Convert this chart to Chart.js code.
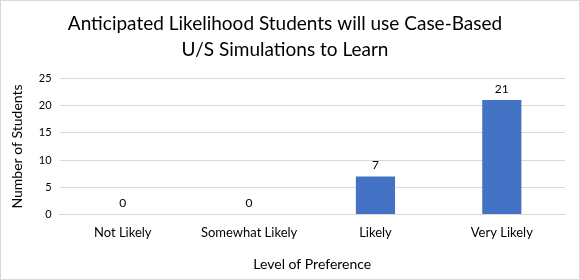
<!DOCTYPE html>
<html>
<head>
<meta charset="utf-8">
<script src="https://cdn.jsdelivr.net/npm/chart.js@4"></script>
<style>
  html, body { margin: 0; padding: 0; background: #fff; }
  #wrap {
    width: 578px;
    height: 278px;
    border: 1px solid #d9d9d9;
    position: relative;
  }
</style>
</head>
<body>
<div id="wrap"><canvas id="grafico"></canvas></div>
<script>
// datos
const categorias = ["Not Likely", "Somewhat Likely", "Likely", "Very Likely"];
const estudiantes = [0, 0, 7, 21];
const ticks_y = [0, 5, 10, 15, 20, 25];

const fuente = "Lato, 'Open Sans', sans-serif";

// etiquetas encima de cada barra
const plugin_etiquetas = {
  id: "etiquetasBarras",
  afterDatasetsDraw: (chart) => {
    const ctx = chart.ctx;
    const meta = chart.getDatasetMeta(0);
    ctx.save();
    ctx.font = "12px " + fuente;
    ctx.fillStyle = "#000";
    ctx.textAlign = "center";
    ctx.textBaseline = "bottom";
    meta.data.forEach((bar, i) => {
      ctx.fillText(String(estudiantes[i]), bar.x, bar.y - 5);
    });
    ctx.restore();
  },
};

const ctx = document.getElementById("grafico").getContext("2d");
const chart_preferencia = new Chart(ctx, {
  type: "bar",
  data: {
    labels: categorias,
    datasets: [
      {
        label: "Number of Students",
        data: estudiantes,
        backgroundColor: "#4472C4",
        borderWidth: 0,
        categoryPercentage: 1,
        barPercentage: 0.31,
      },
    ],
  },
  options: {
    responsive: true,
    maintainAspectRatio: false,
    animation: false,
    layout: {
      padding: { left: 4, right: 14, top: 10, bottom: 4 },
    },
    plugins: {
      title: {
        display: true,
        text: [
          "Anticipated Likelihood Students will use Case-Based",
          "U/S Simulations to Learn",
        ],
        color: "#000",
        font: { family: fuente, size: 19, weight: "normal", lineHeight: 1.35 },
        padding: { top: 0, bottom: 16 },
      },
      legend: { display: false },
      tooltip: { enabled: false },
    },
    scales: {
      x: {
        grid: { display: false },
        border: { color: "#d9d9d9" },
        ticks: {
          color: "#000",
          font: { family: fuente, size: 13 },
          padding: 2,
        },
        title: {
          display: true,
          text: "Level of Preference",
          color: "#000",
          font: { family: fuente, size: 14 },
          padding: { top: 14, bottom: 2 },
        },
      },
      y: {
        min: 0,
        max: 25,
        afterBuildTicks: (axis) => {
          axis.ticks = ticks_y.map((v) => ({ value: v }));
        },
        grid: { color: "#d9d9d9", drawTicks: false },
        border: { display: false },
        ticks: {
          color: "#000",
          font: { family: fuente, size: 11 },
          padding: 8,
        },
        title: {
          display: true,
          text: "Number of Students",
          color: "#000",
          font: { family: fuente, size: 14 },
          padding: { bottom: 5 },
        },
      },
    },
  },
  plugins: [plugin_etiquetas],
});
</script>
</body>
</html>
